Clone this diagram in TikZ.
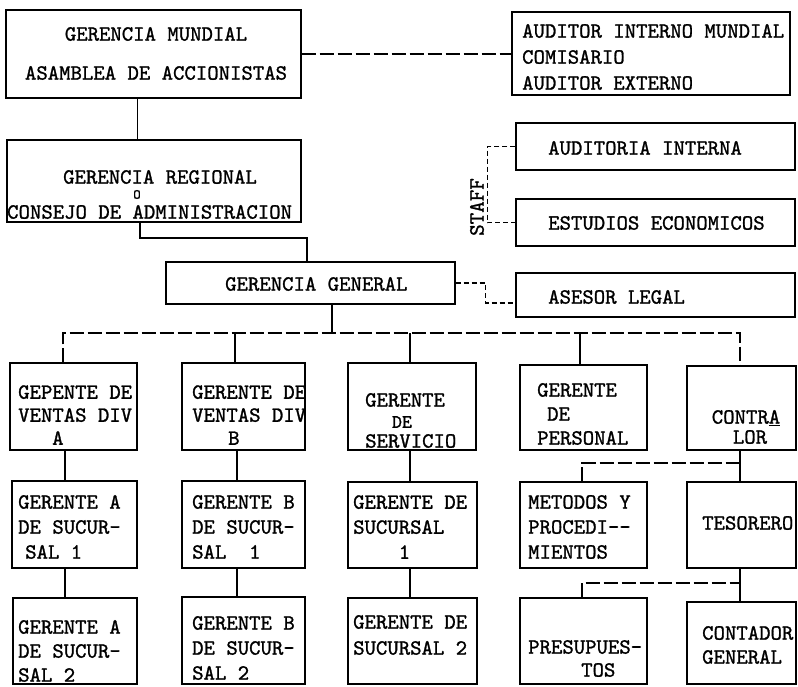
\documentclass[tikz,border=0pt]{standalone}
\usepackage{fontspec}
\newfontfamily\tw{lmmono10-regular.otf}[FakeBold=1.2]
\usetikzlibrary{fit}
\begin{document}
\begin{tikzpicture}[x=1pt,y=-1pt,
  box/.style={draw, line width=1.2pt, inner sep=0pt},
  tx/.style={font=\tw\fontsize{21.7pt}{#1}\selectfont, inner sep=0pt, align=left, anchor=west},
  tx/.default=23pt,
  link/.style={line width=1.1pt},
  brk/.style={line width=1.1pt, dash pattern=on 14pt off 4pt},
  staff/.style={line width=1.1pt, dash pattern=on 5pt off 3pt}]
\fill[white] (0,0) rectangle (798,686);
\useasboundingbox (0,0) rectangle (798,686);
% ---- boxes ----
\node[box, fit={(6,10) (301,98)}] (gm) {};
\node[box, fit={(512,12) (790,95)}] (aud) {};
\node[box, fit={(7,140) (301,222)}] (gr) {};
\node[box, fit={(516,123) (795,170)}] (ai) {};
\node[box, fit={(516,199) (795,246)}] (ee) {};
\node[box, fit={(516,273) (795,317)}] (al) {};
\node[box, fit={(166,262) (455,304)}] (gg) {};
% row 1
\node[box, fit={(10,363) (137,450)}] (ra) {};
\node[box, fit={(182,363) (305,450)}] (rb) {};
\node[box, fit={(348,363) (476,450)}] (rc) {};
\node[box, fit={(520,365) (647,450)}] (rd) {};
\node[box, fit={(687,366) (796,450)}] (re) {};
% row 2
\node[box, fit={(12,481) (137,568)}] (ra2) {};
\node[box, fit={(182,481) (305,568)}] (rb2) {};
\node[box, fit={(348,482) (477,568)}] (rc2) {};
\node[box, fit={(520,482) (647,568)}] (rd2) {};
\node[box, fit={(687,482) (796,568)}] (re2) {};
% row 3
\node[box, fit={(13,598) (137,684)}] (ra3) {};
\node[box, fit={(182,597) (305,684)}] (rb3) {};
\node[box, fit={(348,598) (477,684)}] (rc3) {};
\node[box, fit={(520,598) (647,684)}] (rd3) {};
\node[box, fit={(687,602) (796,684)}] (re3) {};
% ---- texts ----
\node[tx=39pt, align=center, anchor=center] (gm-t) at (156,53.5) {GERENCIA MUNDIAL\\ASAMBLEA DE ACCIONISTAS};
\node[tx=26pt] (aud-t) at (522,57) {AUDITOR INTERNO MUNDIAL\\COMISARIO\\AUDITOR EXTERNO};
\node[tx] (ai-t) at (548,148) {AUDITORIA INTERNA};
\node[tx] (ee-t) at (548,223) {ESTUDIOS ECONOMICOS};
\node[tx] (al-t) at (548,297) {ASESOR LEGAL};
\node[tx=35pt] (gr-t) at (7,194.5) {\hspace*{56pt}GERENCIA REGIONAL\\CONSEJO DE ADMINISTRACION};
\node[font=\tw\fontsize{14pt}{16pt}\selectfont, inner sep=0pt] (gr-o) at (137,194.5) {O};
\node[tx] (gg-t) at (225,284) {GERENCIA GENERAL};
\node[tx=23pt] (ra-t) at (18,415) {GEPENTE DE\\VENTAS DIV\\\hspace*{34pt}A};
\node[tx=23pt] (rb-t) at (192,415) {GERENTE DE\\VENTAS DIV\\\hspace*{36pt}B};
\node[tx=41pt] (rc-t) at (365,420.5) {GERENTE\\SERVICIO};
\node[font=\tw\fontsize{19pt}{21pt}\selectfont, inner sep=0pt] (rc-de) at (402,422) {DE};
\node[tx=24pt] (rd-t) at (537,414) {GERENTE\\\hspace*{10pt}DE\\PERSONAL};
\node[tx=20pt, align=center, anchor=center] (re-t) at (746,427) {CONTR\underline{A}\\\hspace*{8pt}LOR};
\node[tx=25pt] (ra2-t) at (18,527) {GERENTE A\\DE SUCUR-\\\hspace*{7pt}SAL 1};
\node[tx=25pt] (rb2-t) at (192,527) {GERENTE B\\DE SUCUR-\\SAL\hspace*{11.4pt} 1};
\node[tx=25pt] (rc2-t) at (353,527) {GERENTE DE\\SUCURSAL\\\hspace*{45.6pt}1};
\node[tx=25pt] (rd2-t) at (528,527) {METODOS Y\\PROCEDI--\\MIENTOS};
\node[tx] (re2-t) at (702,523) {TESORERO};
\node[tx=24pt] (ra3-t) at (18,651) {GERENTE A\\DE SUCUR-\\SAL 2};
\node[tx=25pt] (rb3-t) at (192,648) {GERENTE B\\DE SUCUR-\\SAL 2};
\node[tx=26pt] (rc3-t) at (353,635) {GERENTE DE\\SUCURSAL 2};
\node[tx=23pt] (rd3-t) at (528,658.5) {PRESUPUES-\\\hspace*{53pt}TOS};
\node[tx=24pt] (re3-t) at (702,645) {CONTADOR\\GENERAL};
\node[font=\tw\fontsize{22pt}{24pt}\selectfont, inner sep=0pt, rotate=90] (staff-t) at (477,207) {STAFF};
% ---- connectors ----
\coordinate (j1) at (307,238);
\coordinate (bus) at (332,333);
\coordinate (cb) at (740,463);
\coordinate (tb) at (740,583);
\draw[brk] (gm.east) -- (gm.east -| aud.west);
\draw[link] ([xshift=-16pt]gm.south) -- ([xshift=-16pt]gm.south |- gr.north);
\draw[link] ([xshift=-14pt]gr.south) |- (j1) -- (j1 |- gg.north);
\draw[link] ([xshift=21.5pt]gg.south) -- (bus);
\draw[brk] ([xshift=-10.5pt]ra.north) |- (bus) -| ([xshift=-1.5pt]re.north);
\draw[link] ([xshift=-8.5pt]rb.north) -- ([xshift=-8.5pt]rb.north |- bus);
\draw[link] ([xshift=-2pt]rc.north) -- ([xshift=-2pt]rc.north |- bus);
\draw[link] ([xshift=-3.5pt]rd.north) -- ([xshift=-3.5pt]rd.north |- bus);
% row1 -> row2
\draw[link] ([xshift=-8.5pt]ra.south) -- ([xshift=-8.5pt]ra.south |- ra2.north);
\draw[link] ([xshift=-6.5pt]rb.south) -- ([xshift=-6.5pt]rb.south |- rb2.north);
\draw[link] ([xshift=-2pt]rc.south) -- ([xshift=-2pt]rc.south |- rc2.north);
\draw[link] ([xshift=-1.5pt]re.south) -- ([xshift=-1.5pt]re.south |- re2.north);
\draw[brk] ([xshift=-1.5pt]rd2.north) |- (cb);
% row2 -> row3
\draw[link] ([xshift=-9.5pt]ra2.south) -- ([xshift=-9.5pt]ra2.south |- ra3.north);
\draw[link] ([xshift=-6.5pt]rb2.south) -- ([xshift=-6.5pt]rb2.south |- rb3.north);
\draw[link] ([xshift=-2.5pt]rc2.south) -- ([xshift=-2.5pt]rc2.south |- rc3.north);
\draw[link] ([xshift=-1.5pt]re2.south) -- ([xshift=-1.5pt]re2.south |- re3.north);
\draw[brk] ([xshift=-1.5pt]rd3.north) |- (tb);
% staff
\draw[staff] (gg.east) -- ++(30,0) |- ([yshift=-8pt]al.west);
\draw[staff] (ai.west) -- ++(-28,0) |- (ee.west);
\end{tikzpicture}
\end{document}
